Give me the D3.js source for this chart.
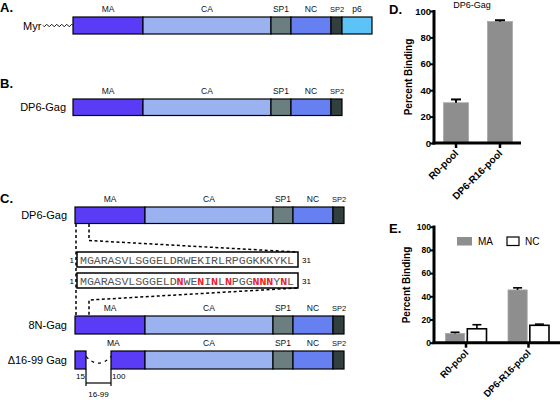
<!DOCTYPE html>
<html><head><meta charset="utf-8">
<script src="https://cdn.jsdelivr.net/npm/d3@7"></script>
<style>
html,body{margin:0;padding:0;background:#fff;}
svg{display:block;font-family:"Liberation Sans",Arial,sans-serif;}
</style></head>
<body>
<svg id="c" width="560" height="405"></svg>
<script>
// ---------- data ----------
const domainNames = ["MA","CA","SP1","NC","SP2","p6"];
const domainUnits = [70,128,20,40,11,30];
const domainColors = ["#5b3cf6","#9ab2f0","#6c7f80","#6680f2","#323f3f","#5cc3f6"];
const seqWT  = "MGARASVLSGGELDRWEKIRLRPGGKKKYKL";
const seq8N  = "MGARASVLSGGELDNWENINLNPGGNNNYNL";
const categories = ["R0-pool","DP6-R16-pool"];
const dValues = [30.5, 92];
const dErr = [2.5, 1];
const eSeries = ["MA","NC"];
const eMA = [8, 45.5];
const eMAErr = [1, 1.8];
const eNC = [12, 15];
const eNCErr = [3.5, 1];
const yTicks = [0,20,40,60,80,100];

const svg = d3.select("#c");
const font = '"Liberation Sans",Arial,sans-serif';

// panel letters
[["A.",0,12],["B.",0,88],["C.",0,203],["D.",389,14],["E.",389,233]].forEach(([t,x,y])=>{
  svg.append("text").attr("x",x).attr("y",y).text(t)
    .attr("font-weight","bold").attr("font-size",13).attr("fill","#000");
});

// ---------- Gag schematics ----------
const ux = d3.scaleLinear().domain([0,1]).range([0,1]); // 1 unit = 1 px
const cum = d3.cumsum(domainUnits);
const starts = cum.map((c,i)=>c-domainUnits[i]);

function drawGag(x0,y,h,n,opts={}){
  const g = svg.append("g").attr("transform",`translate(${x0},${y})`);
  const idx = d3.range(n);
  idx.forEach(i=>{
    if(opts.delta && i===0){
      // split MA: residues 1-15 and 100-132
      const ma = d3.scaleLinear().domain([1,15,100,132]).range([0,11,36,domainUnits[0]]);
      g.append("rect").attr("x",ux(ma(1))).attr("y",0).attr("width",ux(ma(15))-ux(ma(1))).attr("height",h)
        .attr("fill",domainColors[0]).attr("stroke","#000").attr("stroke-width",1.2);
      g.append("rect").attr("x",ux(ma(100))).attr("y",0).attr("width",ux(ma(132))-ux(ma(100))).attr("height",h)
        .attr("fill",domainColors[0]).attr("stroke","#000").attr("stroke-width",1.2);
      // dashed curve in the gap
      const a=ux(ma(15)), b=ux(ma(100));
      g.append("path").attr("d",`M${a},${h*0.3} Q${(a+b)/2},${h*1.05} ${b},${h*0.3}`)
        .attr("fill","none").attr("stroke","#000").attr("stroke-width",1.3).attr("stroke-dasharray","3,4");
      // ticks and bracket
      g.append("line").attr("x1",a).attr("x2",a).attr("y1",h).attr("y2",h+17).attr("stroke","#000").attr("stroke-width",1.2);
      g.append("line").attr("x1",b).attr("x2",b).attr("y1",h).attr("y2",h+17).attr("stroke","#000").attr("stroke-width",1.2);
      g.append("line").attr("x1",a).attr("x2",b).attr("y1",h+14).attr("y2",h+14).attr("stroke","#000").attr("stroke-width",1.2);
      g.append("text").attr("x",a-1).attr("y",h+10).attr("text-anchor","end").attr("font-size",8).text("15");
      g.append("text").attr("x",b+1).attr("y",h+10).attr("font-size",8).text("100");
      g.append("text").attr("x",(a+b)/2).attr("y",h+28).attr("text-anchor","middle").attr("font-size",8).text("16-99");
      g.append("text").attr("x",ux(ma(100))-4).attr("y",-5).attr("font-size",8.5).text("MA");
      return;
    }
    g.append("rect").attr("x",ux(starts[i])).attr("y",0).attr("width",ux(domainUnits[i])).attr("height",h)
      .attr("fill",domainColors[i]).attr("stroke","#000").attr("stroke-width",1.2);
    const small = domainNames[i]==="SP2";
    g.append("text").attr("x",ux(starts[i]+domainUnits[i]/2)+(small?0.5:0)).attr("y",-5)
      .attr("text-anchor","middle").attr("font-size",small?7.5:8.5).attr("fill","#111").text(domainNames[i]);
  });
  return g;
}

// A
drawGag(73,17,17,6);
svg.append("text").attr("x",23).attr("y",29.5).attr("font-size",11).text("Myr");
{
  const pts = d3.range(0,31).map(i=>[43+i, 25.5+1.4*Math.sin(i/30*Math.PI*12)]);
  svg.append("path").attr("d",d3.line().curve(d3.curveBasis)(pts)).attr("fill","none").attr("stroke","#000").attr("stroke-width",0.9);
}
// B
drawGag(73,99,16.5,5);
svg.append("text").attr("x",66).attr("y",111).attr("text-anchor","end").attr("font-size",11).text("DP6-Gag");
// C
drawGag(75,207,16.5,5);
svg.append("text").attr("x",67).attr("y",219).attr("text-anchor","end").attr("font-size",11).text("DP6-Gag");
// 8N
drawGag(75,316,18,5);
svg.append("text").attr("x",67).attr("y",329).attr("text-anchor","end").attr("font-size",11).text("8N-Gag");
// delta
drawGag(75,351,18,5,{delta:true});
svg.append("text").attr("x",67).attr("y",364).attr("text-anchor","end").attr("font-size",11).text("\u039416-99 Gag");

// sequence boxes
function seqBox(seq,ref,y){
  svg.append("rect").attr("x",77).attr("y",y).attr("width",221).attr("height",15)
    .attr("fill","#fff").attr("stroke","#000").attr("stroke-width",1.5);
  const t = svg.append("text").attr("x",80).attr("y",y+11.5).attr("font-family",'"Liberation Mono","Courier New",monospace')
    .attr("font-size",11.6).attr("textLength",214).attr("lengthAdjust","spacing");
  seq.split("").forEach((c,i)=>{
    const mut = c!==ref[i];
    t.append("tspan").text(c).attr("fill",mut?"#e8202a":"#555").attr("font-weight",mut?"bold":"normal");
  });
  svg.append("text").attr("x",74).attr("y",y+11).attr("text-anchor","end").attr("font-size",8).text("1");
  svg.append("text").attr("x",302).attr("y",y+11).attr("font-size",8).text("31");
}
seqBox(seqWT,seqWT,252);
seqBox(seq8N,seqWT,273);

// dashed connectors
const dash = {"stroke":"#000","stroke-width":1.5,"stroke-dasharray":"3,2.5","fill":"none"};
function dpath(d){const p=svg.append("path").attr("d",d);Object.entries(dash).forEach(([k,v])=>p.attr(k,v));}
dpath("M76,224 V315");
dpath("M89,224 V240.5 L297,252");
dpath("M297,288 L89,300 V315");

// ---------- Panel D ----------
{
  const y = d3.scaleLinear().domain([0,100]).range([143,11]);
  const x = d3.scaleBand().domain(categories).range([434,522]).paddingInner(0.43).paddingOuter(0.216);
  const g = svg.append("g");
  g.selectAll("rect.bar").data(categories).join("rect").attr("class","bar")
    .attr("x",d=>x(d)).attr("width",x.bandwidth())
    .attr("y",(d,i)=>y(dValues[i])).attr("height",(d,i)=>y(0)-y(dValues[i]))
    .attr("fill","#8e8e8e").attr("stroke","#a8a8a8").attr("stroke-width",0.8);
  categories.forEach((c,i)=>{
    const cx = x(c)+x.bandwidth()/2;
    g.append("line").attr("x1",cx).attr("x2",cx).attr("y1",y(dValues[i])).attr("y2",y(dValues[i]+dErr[i])).attr("stroke","#000").attr("stroke-width",2);
    g.append("line").attr("x1",cx-5).attr("x2",cx+5).attr("y1",y(dValues[i]+dErr[i])).attr("y2",y(dValues[i]+dErr[i])).attr("stroke","#000").attr("stroke-width",2);
  });
  const ya = g.append("g").attr("transform","translate(434,0)")
    .call(d3.axisLeft(y).tickValues(yTicks).tickSize(4).tickSizeOuter(0));
  ya.select(".domain").attr("stroke-width",3).attr("d","M0,10V144.5");
  ya.selectAll(".tick line").attr("stroke-width",2);
  ya.selectAll(".tick text").attr("font-family",font).attr("font-weight","bold").attr("font-size",9.5).attr("fill","#000").attr("x",-3);
  const xa = g.append("g").attr("transform","translate(0,143)")
    .call(d3.axisBottom(x).tickSize(5).tickSizeOuter(0));
  xa.select(".domain").attr("stroke-width",3).attr("d","M432.5,0H521");
  xa.selectAll(".tick line").attr("stroke-width",2.5);
  xa.selectAll(".tick text").attr("font-family",font).attr("font-weight","bold").attr("font-size",10).attr("fill","#000")
    .attr("text-anchor","end").attr("dy",0).attr("y",0).attr("transform","translate(3,11) rotate(-45)");
  svg.append("text").attr("x",472).attr("y",8).attr("text-anchor","middle").attr("font-size",9).text("DP6-Gag");
  svg.append("text").attr("transform","translate(412,77) rotate(-90)").attr("text-anchor","middle")
    .attr("font-weight","bold").attr("font-size",10).text("Percent Binding");
}

// ---------- Panel E ----------
{
  const y = d3.scaleLinear().domain([0,100]).range([342.7,226.7]);
  const x = d3.scaleBand().domain(categories).range([434,560.5]).paddingInner(0.344).paddingOuter(0.184);
  const xs = d3.scaleBand().domain(eSeries).range([0,x.bandwidth()]).paddingInner(0.12);
  const vals = {MA:eMA, NC:eNC}, errs = {MA:eMAErr, NC:eNCErr};
  const fills = {MA:"#8e8e8e", NC:"#fff"}, strokes = {MA:"#a8a8a8", NC:"#000"}, sw = {MA:0.8, NC:1.6};
  const g = svg.append("g");
  categories.forEach((c,i)=>{
    eSeries.forEach(s=>{
      const v = vals[s][i], e = errs[s][i];
      const bx = x(c)+xs(s);
      g.append("rect").attr("x",bx).attr("width",xs.bandwidth()).attr("y",y(v)).attr("height",y(0)-y(v))
        .attr("fill",fills[s]).attr("stroke",strokes[s]).attr("stroke-width",sw[s]);
      const cx = bx+xs.bandwidth()/2;
      g.append("line").attr("x1",cx).attr("x2",cx).attr("y1",y(v)).attr("y2",y(v+e)).attr("stroke","#000").attr("stroke-width",1.6);
      g.append("line").attr("x1",cx-4.5).attr("x2",cx+4.5).attr("y1",y(v+e)).attr("y2",y(v+e)).attr("stroke","#000").attr("stroke-width",1.6);
    });
  });
  const ya = g.append("g").attr("transform","translate(434,0)")
    .call(d3.axisLeft(y).tickValues(yTicks).tickSize(4).tickSizeOuter(0));
  ya.select(".domain").attr("stroke-width",3).attr("d","M0,225.5V344");
  ya.selectAll(".tick line").attr("stroke-width",2);
  ya.selectAll(".tick text").attr("font-family",font).attr("font-weight","bold").attr("font-size",8.5).attr("fill","#000").attr("x",-3);
  const xa = g.append("g").attr("transform","translate(0,342.7)")
    .call(d3.axisBottom(x).tickSize(5).tickSizeOuter(0));
  xa.select(".domain").attr("stroke-width",3).attr("d","M432.5,0H560");
  xa.selectAll(".tick line").attr("stroke-width",2.5);
  xa.selectAll(".tick text").attr("font-family",font).attr("font-weight","bold").attr("font-size",9.5).attr("fill","#000")
    .attr("text-anchor","end").attr("dy",0).attr("y",0).attr("transform","translate(3,11) rotate(-45)");
  svg.append("text").attr("transform","translate(410,285) rotate(-90)").attr("text-anchor","middle")
    .attr("font-weight","bold").attr("font-size",10).text("Percent Binding");
  // legend
  const leg = [["MA",457,15],["NC",507,12]];
  leg.forEach(([s,lx,w])=>{
    svg.append("rect").attr("x",lx).attr("y",237).attr("width",w).attr("height",8.5)
      .attr("fill",fills[s]).attr("stroke",s==="NC"?"#000":"none").attr("stroke-width",1.2);
    svg.append("text").attr("x",lx+w+6).attr("y",245).attr("font-size",10).text(s);
  });
}
</script>
</body></html>
